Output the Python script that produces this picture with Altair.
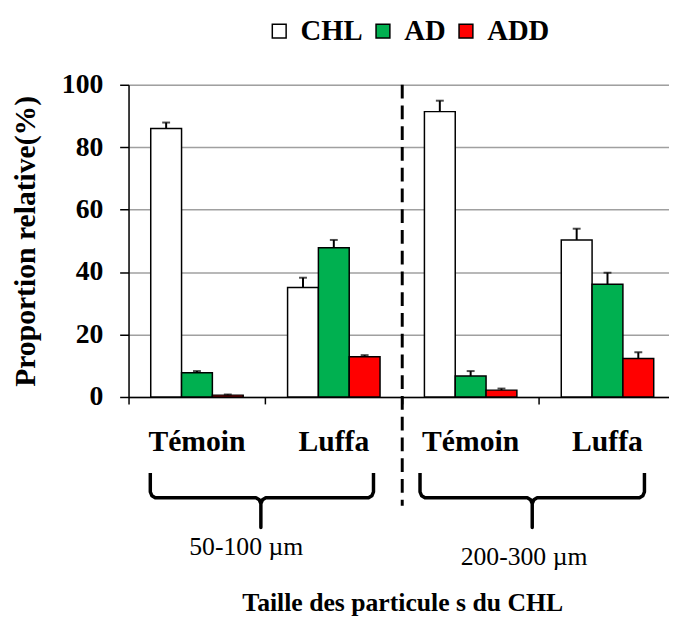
import altair as alt
import pandas as pd

# ---- data ----
group_names = ["Témoin", "Luffa", "Témoin", "Luffa"]
size_labels = ["50-100 µm", "200-300 µm"]
series = ["CHL", "AD", "ADD"]
colors = ["#FFFFFF", "#00B050", "#FF0000"]

chl = [86.0, 35.1, 91.4, 50.3]
chl_err = [1.9, 3.1, 3.5, 3.6]
ad = [7.8, 47.8, 6.7, 36.1]
ad_err = [0.5, 2.5, 1.6, 3.7]
add = [0.6, 12.9, 2.2, 12.3]
add_err = [0.2, 0.5, 0.5, 2.0]

y_ticks = [0, 20, 40, 60, 80, 100]

# ---- layout constants ----
W, H = 554, 316
FONT = "Liberation Serif"
XTITLE = "Taille des particule s du CHL"
YTITLE = "Proportion relative(%)"

cats = [f"{n}|{i}" for i, n in enumerate(group_names)]
rows = []
for s, vals, errs in zip(series, [chl, ad, add], [chl_err, ad_err, add_err]):
    for c, v, e in zip(cats, vals, errs):
        rows.append({"cat": c, "series": s, "value": v, "upper": v + e})
df = pd.DataFrame(rows)

x_scale = alt.Scale(domain=cats, paddingInner=0, paddingOuter=0)
xo_scale = alt.Scale(domain=series, paddingInner=0, paddingOuter=0.72)
y_scale = alt.Scale(domain=[0, 100], nice=False)

x_axis = alt.Axis(
    bandPosition=0, tickSize=7, tickWidth=1.5, tickColor="black",
    domainColor="black", domainWidth=1.5, labelPadding=23, labelFontSize=30,
    labelFontWeight="bold", labelFont=FONT, labelColor="black", labelAngle=0,
    labelExpr="split(datum.label, '|')[0]", labelFlush=False, labelOverlap=False,
    labelBound=False, grid=False,
    titleFont=FONT, titleFontSize=26, titleFontWeight="bold", titleColor="black",
    titleY=216, titleBaseline="alphabetic",
)
y_axis = alt.Axis(
    values=y_ticks, tickSize=9, tickWidth=1.5, tickColor="black",
    domainColor="black", domainWidth=1.5, labelPadding=17, labelFontSize=28,
    labelFontWeight="bold", labelFont=FONT, labelColor="black",
    grid=True, gridColor="#A0A0A0", gridWidth=1.5,
    titleFont=FONT, titleFontSize=30, titleFontWeight="bold", titleColor="black",
    titleX=-95, titleY=H / 2, titleBaseline="alphabetic",
)


def X(**kw):
    return alt.X("cat:N", scale=x_scale, axis=x_axis, title=XTITLE, **kw)


def Y(field):
    return alt.Y(field, scale=y_scale, axis=y_axis, title=YTITLE)


XO = alt.XOffset("series:N", scale=xo_scale)

base = alt.Chart(df)
bars = base.mark_bar(stroke="black", strokeWidth=1.5).encode(
    x=X(), xOffset=XO, y=Y("value:Q"),
    color=alt.Color(
        "series:N",
        scale=alt.Scale(domain=series, range=colors),
        legend=alt.Legend(
            title=None, orient="none", direction="horizontal", legendX=138, legendY=-69,
            symbolType="square", symbolSize=196, symbolStrokeColor="black",
            symbolStrokeWidth=1.5, labelFont=FONT, labelFontSize=29,
            labelFontWeight="bold", labelColor="black", labelOffset=7,
            columnPadding=6,
        ),
    ),
)
err = base.mark_rule(color="black", strokeWidth=2).encode(
    x=X(), xOffset=XO, y=Y("value:Q"), y2="upper:Q"
)
caps = base.mark_tick(color="black", thickness=2, size=8, orient="horizontal").encode(
    x=X(), xOffset=XO, y=Y("upper:Q")
)
divider = alt.Chart(pd.DataFrame({"cat": [cats[2]]})).mark_rule(
    color="black", strokeWidth=3, strokeDash=[14, 7]
).encode(x=X(bandPosition=0), y=alt.value(0), y2=alt.value(426))

inner = alt.layer(bars, err, caps, divider)

# ---- brace annotations (in category units) ----
brace_spans = [(0.159, 0.967, 1.79), (2.13, 2.95, 3.77)]
b_top, b_mid, b_tip = 393, 418, 448
brows = []
for b, (L, T, R) in enumerate(brace_spans):
    pts = [
        (L, b_top), (L, b_mid - 6), (L + 0.012, b_mid - 2), (L + 0.036, b_mid),
        (T - 0.036, b_mid), (T - 0.012, b_mid + 2), (T, b_mid + 6), (T, b_tip),
        (T, b_mid + 6), (T + 0.012, b_mid + 2), (T + 0.036, b_mid),
        (R - 0.036, b_mid), (R - 0.012, b_mid - 2), (R, b_mid - 6), (R, b_top),
    ]
    for k, (u, py) in enumerate(pts):
        brows.append({"b": b, "k": k, "u": u, "py": py})
bdf = pd.DataFrame(brows)

u_scale = alt.Scale(domain=[0, 4], nice=False, zero=False)
braces = alt.Chart(bdf).mark_line(
    color="black", strokeWidth=3.5, strokeJoin="round", strokeCap="butt"
).encode(
    x=alt.X("u:Q", scale=u_scale, axis=None),
    y=alt.Y("py:Q", scale=None),
    detail="b:N",
    order="k:Q",
)

size_df = pd.DataFrame({"label": size_labels, "u": [0.86, 2.89], "py": [476, 486]})
size_text = alt.Chart(size_df).mark_text(
    font=FONT, fontSize=26, color="black", baseline="alphabetic", align="center"
).encode(
    x=alt.X("u:Q", scale=u_scale, axis=None),
    y=alt.Y("py:Q", scale=None),
    text="label:N",
)

chart = alt.layer(inner, braces, size_text).resolve_scale(x="independent").properties(
    width=W, height=H,
    autosize=alt.AutoSizeParams(type="none"),
    padding={"left": 122, "top": 74, "right": -7, "bottom": 221},
).configure_view(strokeWidth=0).configure(background="white")

chart.save("out.html", embed_options={"renderer": "svg", "actions": False})
